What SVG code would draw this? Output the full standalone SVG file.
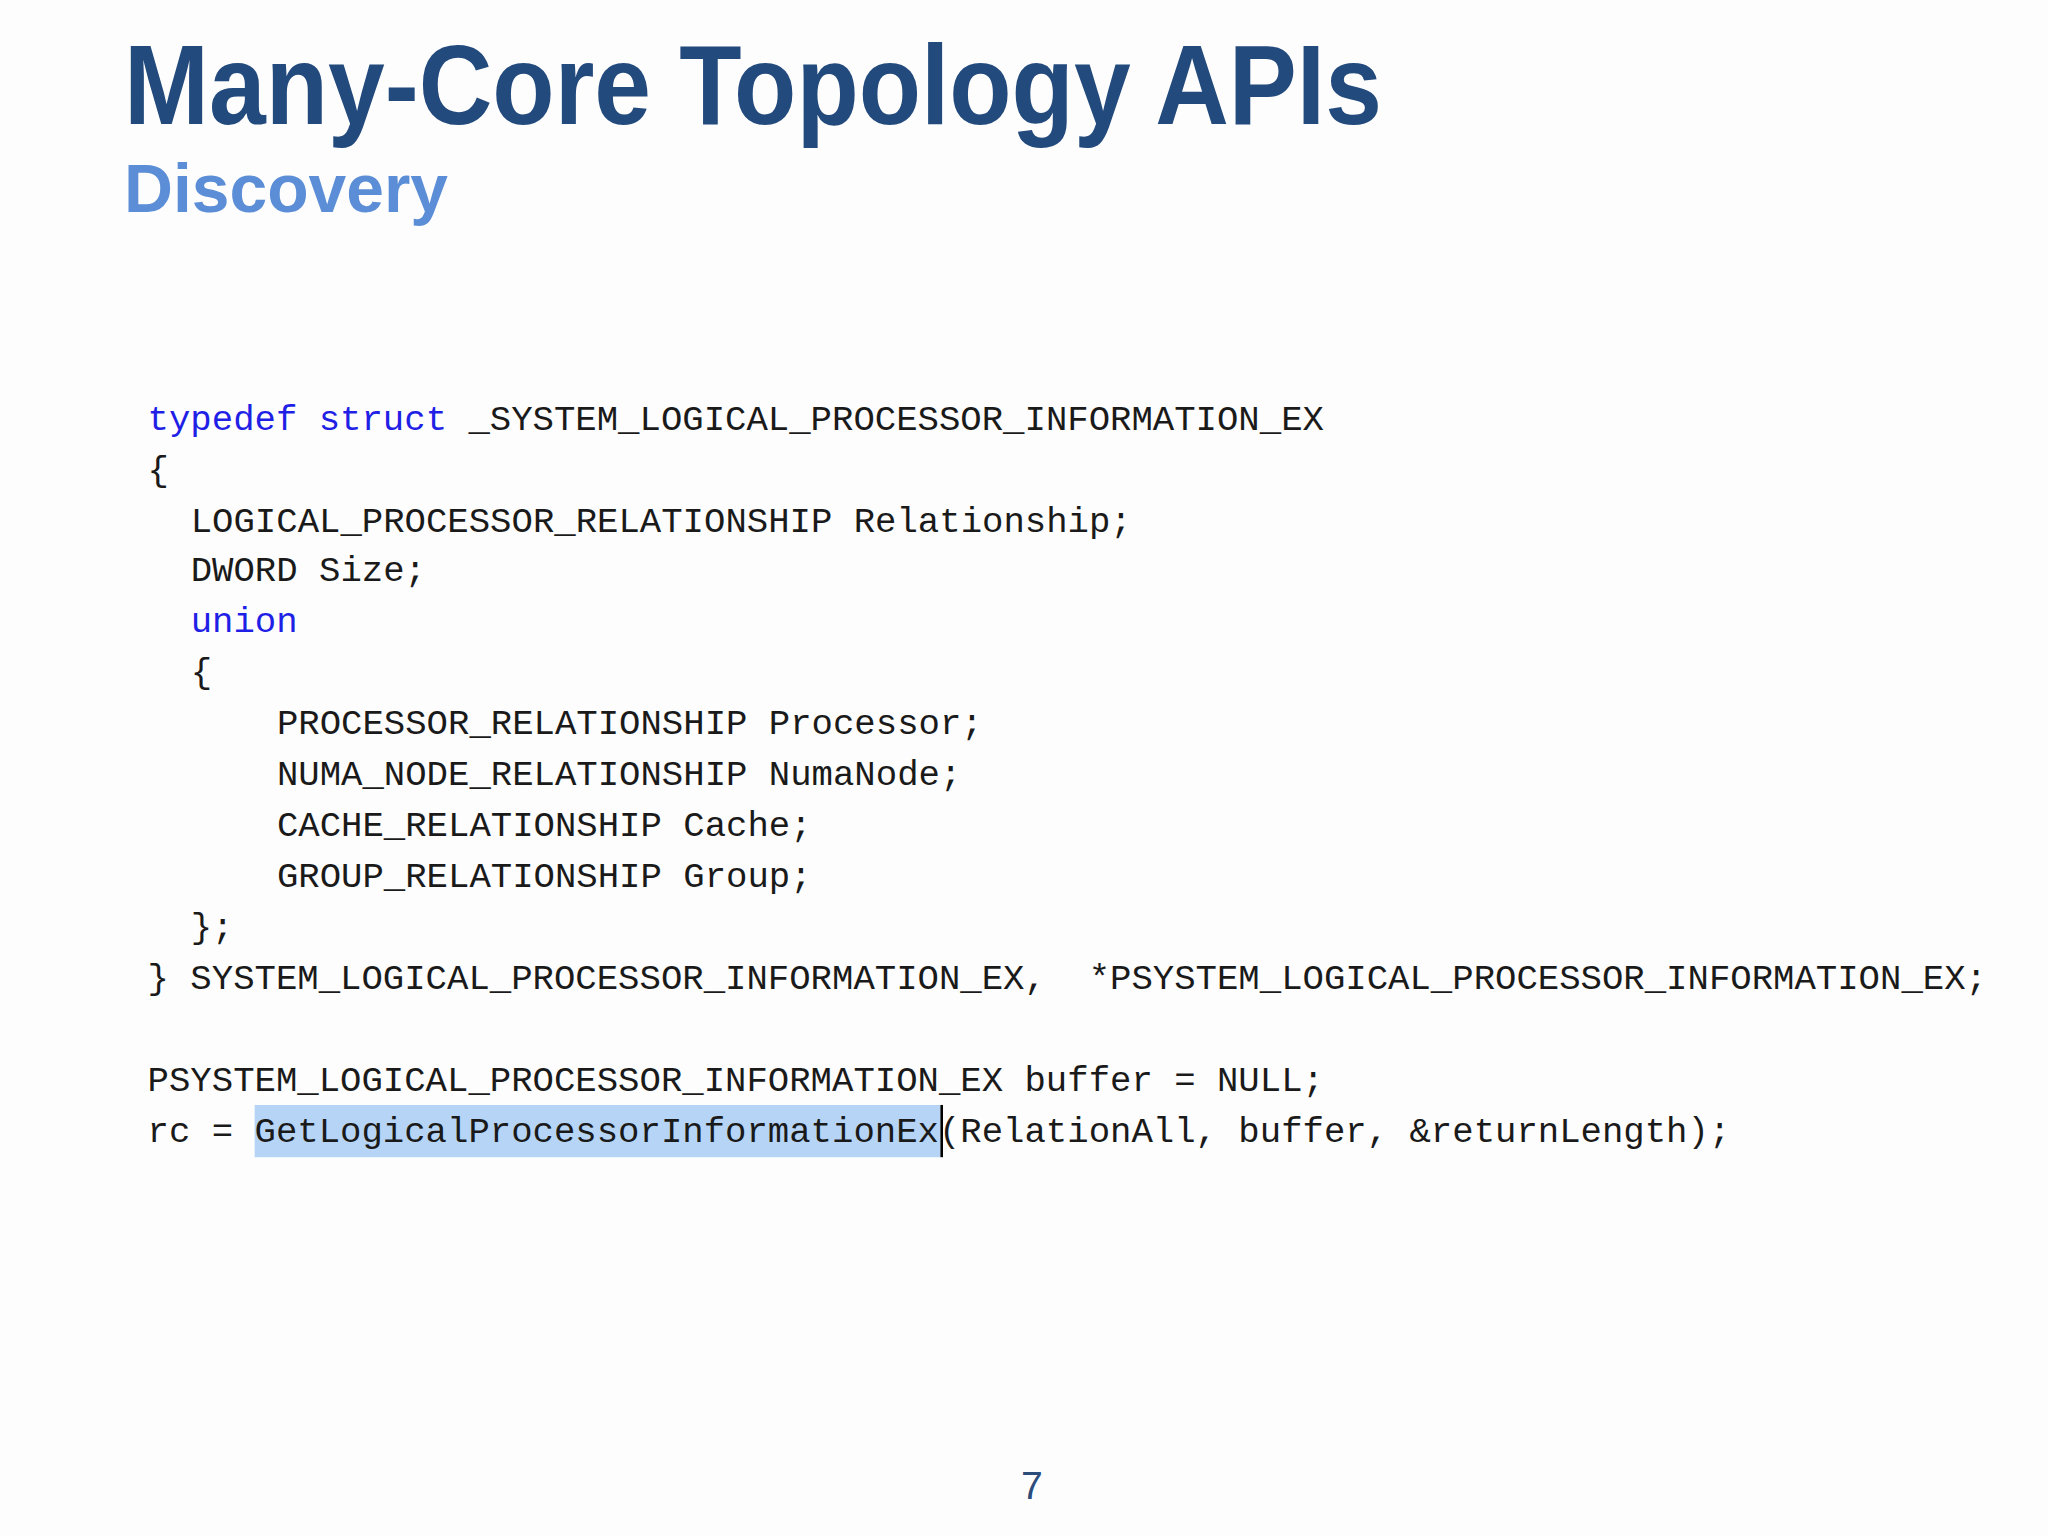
<svg xmlns="http://www.w3.org/2000/svg" width="2048" height="1536" viewBox="0 0 2048 1536">
<style>
.t{font-family:"Liberation Sans",Arial,sans-serif;font-weight:bold}
.c{font-family:"Liberation Mono","DejaVu Sans Mono",monospace;font-size:27.3px;fill:#1a1a1a}
.k{fill:#1f1fe6}
</style>
<rect width="2048" height="1536" fill="#fdfdfd"/>
<g transform="scale(1.3061)">
<g id="title">
<text class="t" x="95" y="95" font-size="86" fill="#234a7d" textLength="963" lengthAdjust="spacingAndGlyphs">Many-Core Topology APIs</text>
<text class="t" x="95" y="162" font-size="52" fill="#5b8ed6" textLength="248" lengthAdjust="spacingAndGlyphs">Discovery</text>
</g>
<g id="code">
<rect x="195" y="846" width="525" height="40" fill="#b6d5f6"/>
<line x1="721" y1="846" x2="721" y2="886" stroke="#000" stroke-width="2"/>
<text class="c" x="113" y="329"><tspan class="k">typedef</tspan> <tspan class="k">struct</tspan> _SYSTEM_LOGICAL_PROCESSOR_INFORMATION_EX</text>
<text class="c" x="113" y="368">{</text>
<text class="c" x="146" y="407">LOGICAL_PROCESSOR_RELATIONSHIP Relationship;</text>
<text class="c" x="146" y="445">DWORD Size;</text>
<text class="c k" x="146" y="484">union</text>
<text class="c" x="146" y="523">{</text>
<text class="c" x="212" y="562">PROCESSOR_RELATIONSHIP Processor;</text>
<text class="c" x="212" y="601">NUMA_NODE_RELATIONSHIP NumaNode;</text>
<text class="c" x="212" y="640">CACHE_RELATIONSHIP Cache;</text>
<text class="c" x="212" y="679">GROUP_RELATIONSHIP Group;</text>
<text class="c" x="146" y="718">};</text>
<text class="c" x="113" y="757" xml:space="preserve">} SYSTEM_LOGICAL_PROCESSOR_INFORMATION_EX,  *PSYSTEM_LOGICAL_PROCESSOR_INFORMATION_EX;</text>
<text class="c" x="113" y="835">PSYSTEM_LOGICAL_PROCESSOR_INFORMATION_EX buffer = NULL;</text>
<text class="c" x="113" y="874">rc = GetLogicalProcessorInformationEx(RelationAll, buffer, &amp;returnLength);</text>
</g>
<g id="page">
<text x="790" y="1148" font-family="Liberation Sans,Arial,sans-serif" font-size="30" fill="#2c4c7c" text-anchor="middle">7</text>
</g>
</g>
</svg>
